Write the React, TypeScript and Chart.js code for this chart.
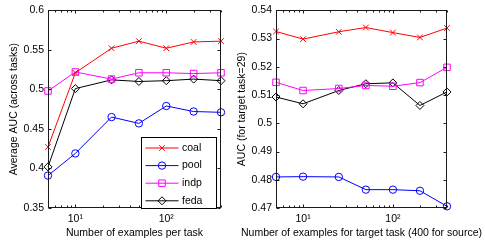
import React, { useEffect, useRef } from 'react';
import { Chart, registerables } from 'chart.js';
import { drawPoint } from 'chart.js/helpers';

Chart.register(...registerables);

// ---------- data ----------
const xValues = [5, 10, 25, 50, 100, 200, 400];
const seriesNames = ['coal', 'pool', 'indp', 'feda'];

const leftCoal = [0.427, 0.521, 0.552, 0.561, 0.552, 0.56, 0.561];
const leftPool = [0.391, 0.419, 0.465, 0.457, 0.479, 0.472, 0.471];
const leftIndp = [0.498, 0.522, 0.513, 0.521, 0.521, 0.52, 0.521];
const leftFeda = [0.402, 0.501, 0.512, 0.51, 0.511, 0.513, 0.511];

const rightCoal = [0.5325, 0.5298, 0.5324, 0.5339, 0.5321, 0.5304, 0.5337];
const rightPool = [0.481, 0.4811, 0.481, 0.4765, 0.4765, 0.4761, 0.4706];
const rightIndp = [0.5145, 0.5116, 0.5123, 0.5134, 0.5131, 0.5144, 0.5198];
const rightFeda = [0.5093, 0.5069, 0.5116, 0.514, 0.5143, 0.5063, 0.5111];

const leftYTicks = [0.35, 0.4, 0.45, 0.5, 0.55, 0.6];
const rightYTicks = [0.47, 0.48, 0.49, 0.5, 0.51, 0.52, 0.53, 0.54];
const xMajorTicks = [10, 100];
const xMinorTicks = [5, 6, 7, 8, 9, 20, 30, 40, 50, 60, 70, 80, 90, 200, 300, 400];

const leftXTitle = 'Number of examples per task';
const leftYTitle = 'Average AUC (across tasks)';
const rightXTitle = 'Number of examples for target task (400 for source)';
const rightYTitle = 'AUC (for target task=29)';

// ---------- styles ----------
const FONT = '"Liberation Sans", Arial, Helvetica, sans-serif';
const FS = 10.5;
const styles = [
  { color: '#ff0000', point: 'crossRot', radius: 4 },
  { color: '#0000ff', point: 'circle', radius: 3.7 },
  { color: '#ff00ff', point: 'rect', radius: 4.6 },
  { color: '#000000', point: 'rectRot', radius: 4 },
];

const SUP: Record<string, string> = { '0': '⁰', '1': '¹', '2': '²', '3': '³' };

function makeDatasets(series: number[][]) {
  return series.map((vals, i) => ({
    label: seriesNames[i],
    data: xValues.map((x, j) => ({ x, y: vals[j] })),
    borderColor: styles[i].color,
    backgroundColor: 'rgba(0,0,0,0)',
    borderWidth: 1,
    pointStyle: styles[i].point,
    pointRadius: styles[i].radius,
    pointBorderWidth: 1,
    pointBorderColor: styles[i].color,
    pointBackgroundColor: 'rgba(0,0,0,0)',
    tension: 0,
    clip: false as any,
  }));
}

const framePlugin = {
  id: 'frame',
  afterDraw(chart: any) {
    const { ctx, chartArea: a, scales } = chart;
    const po = chart.options.plugins.frame;
    const L = Math.round(a.left) + 0.5;
    const R = Math.round(a.right) - 0.5;
    const T = Math.round(a.top) + 0.5;
    const B = Math.round(a.bottom) - 0.5;
    ctx.save();
    ctx.strokeStyle = '#1a1a1a';
    ctx.lineWidth = 1;
    ctx.strokeRect(L, T, R - L, B - T);
    ctx.beginPath();
    const yt: number[] = po.yTicks;
    yt.forEach((v) => {
      const y = Math.round(scales.y.getPixelForValue(v)) + 0.5;
      ctx.moveTo(L, y); ctx.lineTo(L + 3, y);
      ctx.moveTo(R, y); ctx.lineTo(R - 3, y);
    });
    xMajorTicks.forEach((v) => {
      const x = Math.round(scales.x.getPixelForValue(v)) + 0.5;
      ctx.moveTo(x, B); ctx.lineTo(x, B - 3);
      ctx.moveTo(x, T); ctx.lineTo(x, T + 3);
    });
    xMinorTicks.forEach((v) => {
      const x = Math.round(scales.x.getPixelForValue(v)) + 0.5;
      ctx.moveTo(x, B); ctx.lineTo(x, B - 2);
      ctx.moveTo(x, T); ctx.lineTo(x, T + 2);
    });
    ctx.stroke();

    // x axis title (drawn here so long titles are not squeezed to the axis width)
    ctx.fillStyle = '#000000';
    ctx.font = `${FS}px ${FONT}`;
    ctx.textBaseline = 'middle';
    ctx.textAlign = 'center';
    ctx.fillText(po.xTitle, (a.left + a.right) / 2, 232.7);

    if (po.legend) {
      const bx = Math.round(a.right - 80) + 0.5;
      const bw = 75;
      const by = Math.round(a.bottom - 71) + 0.5;
      const bh = 71;
      ctx.fillStyle = '#ffffff';
      ctx.fillRect(bx, by, bw, bh);
      ctx.strokeStyle = '#000000';
      ctx.strokeRect(bx, by, bw, bh);
      chart.data.datasets.forEach((ds: any, i: number) => {
        const y = by + 10.5 + i * 17.6;
        ctx.strokeStyle = ds.borderColor;
        ctx.lineWidth = 1;
        ctx.beginPath();
        ctx.moveTo(bx + 4, y);
        ctx.lineTo(bx + 37, y);
        ctx.stroke();
        ctx.fillStyle = 'rgba(0,0,0,0)';
        drawPoint(ctx, { pointStyle: ds.pointStyle, radius: ds.pointRadius, rotation: 0, borderWidth: 1 } as any, bx + 20.5, y);
        ctx.fillStyle = '#000000';
        ctx.font = `${FS}px ${FONT}`;
        ctx.textBaseline = 'middle';
        ctx.textAlign = 'left';
        ctx.fillText(ds.label, bx + 40.5, y);
      });
    }
    ctx.restore();
  },
};

function makeConfig(opts: {
  series: number[][];
  yTicks: number[];
  xTitle: string;
  yTitle: string;
  padRight: number;
  yWidth: number;
  yTitlePad: number;
  legend: boolean;
}): any {
  const { yTicks } = opts;
  return {
    type: 'line',
    data: { datasets: makeDatasets(opts.series) },
    plugins: [framePlugin],
    options: {
      responsive: false,
      animation: false,
      events: [],
      layout: { padding: { left: 0, top: 9, right: opts.padRight, bottom: 0 } },
      plugins: {
        legend: { display: false },
        tooltip: { enabled: false },
        frame: { yTicks, legend: opts.legend, xTitle: opts.xTitle },
      },
      scales: {
        x: {
          type: 'logarithmic',
          min: 5,
          max: 400,
          grid: { display: false, drawTicks: false },
          border: { display: false },
          afterBuildTicks: (s: any) => {
            s.ticks = xMajorTicks.map((v) => ({ value: v }));
          },
          afterFit: (s: any) => {
            s.height = 32;
          },
          ticks: {
            autoSkip: false,
            maxRotation: 0,
            padding: 5,
            color: '#000',
            font: { family: FONT, size: FS },
            callback: (v: number) => {
              const e = Math.round(Math.log10(v));
              return '10' + String(e).split('').map((c) => SUP[c]).join('');
            },
          },
          title: { display: false },
        },
        y: {
          type: 'linear',
          min: yTicks[0],
          max: yTicks[yTicks.length - 1],
          grid: { display: false, drawTicks: false },
          border: { display: false },
          afterBuildTicks: (s: any) => {
            s.ticks = yTicks.map((v) => ({ value: v }));
          },
          afterFit: (s: any) => {
            s.width = opts.yWidth;
          },
          ticks: {
            autoSkip: false,
            padding: 4,
            color: '#000',
            font: { family: FONT, size: FS },
            callback: (v: number) => String(parseFloat(Number(v).toFixed(3))),
          },
          title: {
            display: true,
            text: opts.yTitle,
            color: '#000',
            font: { family: FONT, size: FS },
            padding: { top: opts.yTitlePad, bottom: 0 },
          },
        },
      },
    },
  };
}

export default function App() {
  const leftRef = useRef<HTMLCanvasElement>(null);
  const rightRef = useRef<HTMLCanvasElement>(null);

  useEffect(() => {
    const c1 = new Chart(
      leftRef.current as HTMLCanvasElement,
      makeConfig({
        series: [leftCoal, leftPool, leftIndp, leftFeda],
        yTicks: leftYTicks,
        xTitle: leftXTitle,
        yTitle: leftYTitle,
        padRight: 11,
        yWidth: 48,
        yTitlePad: 8,
        legend: true,
      })
    );
    const c2 = new Chart(
      rightRef.current as HTMLCanvasElement,
      makeConfig({
        series: [rightCoal, rightPool, rightIndp, rightFeda],
        yTicks: rightYTicks,
        xTitle: rightXTitle,
        yTitle: rightYTitle,
        padRight: 38,
        yWidth: 44,
        yTitlePad: 4,
        legend: false,
      })
    );
    return () => {
      c1.destroy();
      c2.destroy();
    };
  }, []);

  return (
    <div style={{ position: 'absolute', left: 0, top: 0, width: 485, height: 240, background: '#fff' }}>
      <canvas
        ref={leftRef}
        width={232}
        height={240}
        style={{ position: 'absolute', left: 0, top: 0, width: 232, height: 240 }}
      />
      <canvas
        ref={rightRef}
        width={253}
        height={240}
        style={{ position: 'absolute', left: 232, top: 0, width: 253, height: 240 }}
      />
    </div>
  );
}
